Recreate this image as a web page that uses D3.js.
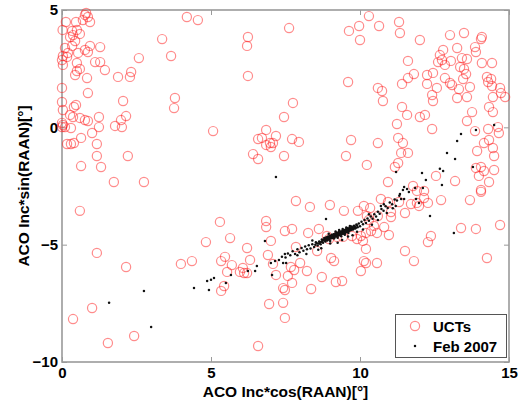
<!DOCTYPE html>
<html>
<head>
<meta charset="utf-8">
<script src="https://cdn.jsdelivr.net/npm/d3@7"></script>
<style>
  html, body { margin: 0; padding: 0; background: #fff; }
  svg { display: block; }
  text { font-family: Arial, "Liberation Sans", sans-serif; font-weight: bold; fill: #000; }
</style>
</head>
<body>
<svg id="chart" width="521" height="404"></svg>
<script>
// Axis limits and tick labels
const xDomain = [0, 15];
const yDomain = [-10, 5];
const xTicks = [0, 5, 10, 15];
const yTicks = [-10, -5, 0, 5];
const xLabel = "ACO Inc*cos(RAAN)[°]";
const yLabel = "ACO Inc*sin(RAAN)[°]";
const seriesNames = ["UCTs", "Feb 2007"];

// Uncorrelated tracks: [Inc*cos(RAAN), Inc*sin(RAAN)] in degrees
const ucts = [
  [0.77,4.79],[0.87,4.70],[0.94,4.49],[0.70,4.57],[0.81,4.87],[0.13,4.49],[0.47,4.49],[0.02,4.15],
  [0.34,4.11],[0.50,4.15],[0.60,3.98],[0.37,3.93],[0.27,3.85],[0.44,3.68],[0.34,3.47],[0.94,3.47],
  [1.28,3.42],[0.10,3.38],[0.20,3.17],[0.03,3.04],[0.17,3.00],[0.87,3.21],[0.77,3.30],[0.54,3.17],
  [0.03,2.66],[0.50,2.74],[1.11,2.78],[1.28,2.78],[1.44,2.44],[0.50,2.40],[0.44,2.23],[0.60,2.49],
  [0.84,2.10],[1.88,2.15],[2.28,2.15],[2.32,2.36],[2.58,2.95],[3.36,3.76],[3.66,3.04],[4.19,4.70],
  [4.56,4.57],[0.00,1.68],[0.87,1.46],[2.05,1.12],[3.79,1.25],[3.76,0.82],[0.00,1.08],[0.47,0.95],
  [0.40,0.87],[0.03,0.74],[0.27,0.53],[0.37,0.44],[0.60,0.40],[0.77,0.31],[0.87,0.27],[1.24,0.44],
  [2.15,0.48],[1.98,0.31],[0.03,0.10],[0.10,0.01],[0.00,0.01],[0.30,-0.03],[1.24,0.01],[1.78,0.06],
  [2.01,0.01],[5.07,-0.16],[1.01,-0.24],[0.64,-0.45],[0.17,-0.71],[0.30,-0.71],[0.40,-0.67],[1.17,-0.71],
  [1.17,-1.22],[2.21,-1.22],[0.64,-1.65],[1.31,-1.69],[1.74,-2.33],[2.75,-2.33],[6.58,-0.50],[6.41,-1.14],
  [6.58,-1.35],[6.24,3.85],[6.21,3.47],[6.24,2.19],[0.00,2.87],[0.00,0.19],
  [7.62,4.23],[9.63,4.11],[9.97,4.32],[10.30,4.74],[10.64,4.32],[10.00,3.72],[11.31,4.49],[11.34,4.02],
  [12.01,3.72],[13.02,3.93],[13.49,4.02],[14.06,3.76],[14.09,3.85],[13.26,3.38],[13.86,3.42],[13.89,3.21],
  [12.79,3.30],[12.68,3.08],[12.62,2.78],[12.75,2.87],[13.05,2.83],[12.85,2.66],[11.61,2.83],[13.42,2.95],
  [13.59,2.91],[13.36,2.57],[13.49,2.49],[13.56,2.27],[13.46,2.06],[14.09,2.74],[14.43,2.74],[11.81,2.27],
  [11.61,2.10],[11.41,1.85],[12.25,2.23],[12.45,2.32],[12.25,1.85],[12.85,2.10],[13.02,1.89],[13.09,1.80],
  [12.58,1.68],[12.42,1.38],[12.45,1.12],[13.32,1.63],[13.26,1.25],[13.59,1.29],[13.69,1.72],[14.26,2.15],
  [14.40,2.06],[14.30,1.93],[14.43,1.76],[14.70,1.68],[14.87,1.29],[14.73,1.46],[14.46,1.29],[9.60,1.93],
  [10.60,1.68],[10.74,1.55],[10.77,1.12],[7.75,1.04],[7.45,0.44],[11.41,0.87],[11.58,0.53],[12.01,0.44],
  [12.18,0.53],[11.24,0.14],[12.42,-0.07],[13.76,0.65],[14.33,0.87],[14.46,0.65],[13.59,0.27],[13.86,-0.16],
  [14.30,-0.07],[14.63,0.01],[14.66,-0.24],[6.85,-0.11],[6.71,-0.45],[6.98,-0.67],[7.18,-0.37],[7.08,-0.67],
  [7.01,-0.84],[6.85,-0.75],[7.72,-0.50],[7.95,-0.62],[7.45,-1.22],[9.70,-0.54],[10.60,-0.67],[9.53,-1.22],
  [10.23,-1.60],[11.28,-0.45],[11.44,-0.67],[11.38,-1.09],[11.61,-1.09],[11.28,-1.52],[11.17,-1.69],[10.94,-2.33],
  [11.78,-2.50],[12.15,-2.71],[11.91,-2.71],[12.55,-2.07],[13.19,-2.29],[13.93,-1.01],[14.16,-0.67],[14.33,-0.54],
  [14.46,-0.88],[14.50,-1.22],[13.89,-1.73],[14.06,-1.69],[14.16,-1.86],[13.99,-2.07],[14.50,-1.82],[14.33,-2.33],
  [14.06,-2.75],[14.06,-2.67],
  [0.60,-3.56],[1.17,-5.35],[2.15,-5.95],[1.01,-7.70],[0.37,-8.17],[2.42,-8.89],[1.54,-9.19],[5.30,-4.03],
  [4.83,-4.89],[5.64,-4.72],[6.21,-5.14],[5.47,-5.52],[5.34,-5.70],[5.70,-5.87],[6.31,-5.65],[3.99,-5.82],
  [4.36,-5.70],[5.54,-6.16],[6.07,-5.99],[6.11,-6.21],[5.97,-6.16],[6.21,-6.21],[5.44,-6.76],[5.34,-6.97],
  [6.58,-9.32],[6.85,-3.99],[6.85,-4.25],[7.01,-4.84],[7.48,-4.42],[6.91,-5.44],[7.08,-5.82],[7.18,-6.29],
  [7.42,-6.85],[7.48,-6.93],[6.95,-7.53],[7.42,-7.48],[7.48,-8.12],[7.85,-3.14],[8.32,-3.39],[8.99,-3.31],
  [9.46,-3.56],[9.93,-3.56],[10.13,-3.35],[10.34,-3.44],[10.70,-3.05],[10.94,-3.18],[11.04,-3.61],[11.04,-3.82],
  [10.60,-3.78],[10.23,-3.78],[10.30,-3.95],[7.72,-4.33],[8.26,-4.50],[8.62,-4.33],[8.89,-4.63],[8.96,-4.76],
  [9.23,-4.67],[9.43,-4.67],[9.73,-4.63],[10.03,-4.63],[10.20,-4.50],[10.37,-4.42],[10.47,-4.20],[10.81,-4.25],
  [10.97,-4.59],[10.57,-4.50],[10.10,-4.84],[9.90,-4.76],[7.85,-5.10],[8.56,-5.27],[9.03,-5.57],[9.13,-5.70],
  [10.20,-5.18],[10.13,-5.70],[10.20,-5.78],[10.57,-5.78],[10.03,-6.12],[7.68,-5.95],[7.99,-5.78],[8.22,-6.12],
  [7.79,-6.08],[7.58,-6.33],[7.72,-6.63],[8.72,-6.38],[9.19,-6.59],[9.40,-6.55],[8.36,-6.89],[11.51,-3.65],
  [11.91,-3.22],[11.51,-5.27],[11.81,-5.70],[12.28,-4.89],[12.38,-4.63],[13.39,-4.29],[13.89,-4.33],[14.70,-4.16],
  [14.26,-5.57],[13.69,-3.10],[12.15,-3.01],[12.28,-3.22],[11.98,-3.35],[11.71,-3.27],[11.31,-3.18],[12.72,-3.10]
];

// February 2007 catalogue objects
const feb2007 = [
  [7.18,-2.12],[11.21,-1.90],[12.08,-1.95],[12.21,-2.24],[12.11,-2.58],[12.68,-1.77],[12.79,-1.86],[12.75,-2.46],
  [12.92,-1.09],[13.19,-1.35],[13.26,-0.58],[13.39,-0.28],[13.89,-0.11],[14.50,0.10],[13.79,-1.69],[11.48,-2.54],
  [11.85,-2.58],[11.38,-3.05],[11.48,-3.05],[11.88,-3.05],[11.98,-3.22],[12.35,-3.78],[13.15,-4.50],[1.58,-7.48],
  [2.75,-6.97],[2.99,-8.51],[4.43,-6.85],[4.87,-6.55],[5.00,-6.50],[5.10,-6.42],[4.93,-6.93],[5.50,-6.63],
  [5.67,-6.29],[6.24,-6.12],[6.48,-6.12],[6.54,-5.91],[6.81,-4.84],[7.01,-5.78],[7.15,-5.70],[7.28,-5.65],
  [7.38,-5.52],[7.48,-5.40],[7.42,-5.78],[7.52,-5.78],[7.05,-6.29],[11.44,-2.67],[11.58,-2.63],[11.64,-2.76],
  [11.34,-2.84],[8.86,-3.91],[10.70,-3.35],
  [7.50,-5.55],[7.58,-5.38],[7.66,-5.45],[7.74,-5.28],[7.82,-5.40],[7.90,-5.20],[7.97,-5.32],[8.04,-5.14],
  [8.10,-5.26],[8.16,-5.08],[8.22,-5.20],[8.28,-5.02],[8.34,-5.16],[8.40,-4.98],[8.46,-5.10],[8.52,-4.90],
  [8.58,-5.04],[8.63,-4.86],[8.68,-4.98],[8.72,-4.78],[8.76,-4.92],[8.80,-4.72],[8.84,-4.86],[8.87,-4.68],
  [8.90,-4.82],[8.93,-4.65],[8.96,-4.78],[8.99,-4.62],[9.02,-4.74],[9.05,-4.58],[9.08,-4.72],[9.11,-4.56],
  [9.14,-4.69],[9.17,-4.52],[9.20,-4.65],[9.23,-4.49],[9.26,-4.62],[9.29,-4.46],[9.32,-4.60],[9.35,-4.44],
  [9.38,-4.56],[9.41,-4.40],[9.44,-4.53],[9.47,-4.37],[9.50,-4.50],[9.53,-4.34],[9.56,-4.46],[9.59,-4.30],
  [9.62,-4.42],[9.65,-4.27],[9.68,-4.39],[9.72,-4.23],[9.76,-4.35],[9.80,-4.19],[9.84,-4.31],[9.88,-4.14],
  [9.92,-4.26],[9.96,-4.10],[10.00,-4.22],[10.05,-4.02],[10.10,-4.13],[10.15,-3.95],[10.20,-4.08],[10.25,-3.88],
  [10.30,-3.98],[10.36,-3.80],[10.42,-3.90],[10.48,-3.70],[10.54,-3.80],[10.60,-3.60],[10.66,-3.68],[10.72,-3.48],
  [10.79,-3.56],[10.86,-3.36],[10.93,-3.44],[11.00,-3.20],[11.08,-3.28],[11.16,-3.08],[11.24,-3.12],[11.32,-2.92],
  [8.92,-4.72],[8.98,-4.70],[9.04,-4.66],[9.09,-4.64],[9.15,-4.60],[9.21,-4.57],[9.27,-4.54],[9.33,-4.52],
  [9.39,-4.48],[9.45,-4.45],[9.51,-4.42],[9.57,-4.38],[9.63,-4.35],[9.69,-4.31],[9.75,-4.28],[9.81,-4.25],
  [9.13,-4.74],[9.25,-4.70],[9.37,-4.64],[9.49,-4.58],[9.61,-4.50],[9.18,-4.44],[9.30,-4.38],[9.42,-4.33],
  [9.54,-4.27],[9.66,-4.20],[8.85,-4.77],[8.95,-4.54],[9.00,-4.84],
  [9.00,-4.95],[8.70,-5.15],[8.20,-5.40],[7.90,-5.45],[8.40,-4.82],[9.60,-4.65],[9.90,-4.45],[10.10,-4.35],
  [10.40,-4.15],[10.60,-3.95],[10.90,-3.65],[11.10,-3.45],[9.25,-4.92],[9.75,-4.60],[10.30,-3.70],[10.80,-3.28],
  [11.20,-3.35],[8.60,-5.22],[9.40,-4.80],
  [8.50,-5.00],[8.55,-4.94],[8.62,-4.95],[8.66,-4.90],[8.71,-4.88],[8.74,-4.84],[8.79,-4.80],[8.82,-4.82],
  [8.86,-4.74],[8.91,-4.77],[8.94,-4.70],[8.97,-4.66],[9.01,-4.69],[9.06,-4.62],[9.10,-4.68],[9.12,-4.60],
  [9.16,-4.64],[9.19,-4.55],[9.22,-4.61],[9.24,-4.53],[9.28,-4.58],[9.31,-4.50],[9.34,-4.55],[9.36,-4.47],
  [9.40,-4.52],[9.43,-4.44],[9.46,-4.49],[9.48,-4.41],[9.52,-4.46],[9.55,-4.38],[9.58,-4.43],[9.60,-4.35],
  [9.64,-4.40],[9.67,-4.32],[9.71,-4.36],[9.74,-4.29],[9.78,-4.33],[9.82,-4.22],[9.86,-4.28],[9.90,-4.18]
];

const svg = d3.select("#chart");
const margin = { left: 62, top: 10, right: 12, bottom: 42 };
const W = 521, H = 404;
const x = d3.scaleLinear().domain(xDomain).range([margin.left, W - margin.right]);
const y = d3.scaleLinear().domain(yDomain).range([H - margin.bottom, margin.top]);

const axisColor = "#9a9a9a";
const tickLen = 5;

// Bottom and left axes carry the labels; ticks point inward
const gx = svg.append("g").attr("transform", `translate(0,${y(yDomain[0])})`)
  .call(d3.axisBottom(x).tickValues(xTicks).tickSizeInner(-tickLen).tickSizeOuter(0).tickPadding(5).tickFormat(d3.format("d")));
const gy = svg.append("g").attr("transform", `translate(${x(xDomain[0])},0)`)
  .call(d3.axisLeft(y).tickValues(yTicks).tickSizeInner(-tickLen).tickSizeOuter(0).tickPadding(4).tickFormat(d3.format("d")));
// Mirrored ticks on top and right
const gt = svg.append("g").attr("transform", `translate(0,${y(yDomain[1])})`)
  .call(d3.axisTop(x).tickValues(xTicks).tickSizeInner(-tickLen).tickSizeOuter(0).tickFormat(""));
const gr = svg.append("g").attr("transform", `translate(${x(xDomain[1])},0)`)
  .call(d3.axisRight(y).tickValues(yTicks).tickSizeInner(-tickLen).tickSizeOuter(0).tickFormat(""));

[gx, gy, gt, gr].forEach(g => {
  g.select(".domain").remove();
  g.selectAll(".tick line").attr("stroke", axisColor).attr("stroke-width", 1);
  g.selectAll(".tick text")
    .attr("font-family", 'Arial, "Liberation Sans", sans-serif')
    .attr("font-weight", "bold").attr("font-size", 15).attr("fill", "#000");
});

// Axes frame
svg.append("rect")
  .attr("x", x(xDomain[0])).attr("y", y(yDomain[1]))
  .attr("width", x(xDomain[1]) - x(xDomain[0]))
  .attr("height", y(yDomain[0]) - y(yDomain[1]))
  .attr("fill", "none").attr("stroke", axisColor).attr("stroke-width", 1.6);

// UCT circles
svg.append("g").selectAll("circle").data(ucts).join("circle")
  .attr("cx", d => x(d[0])).attr("cy", d => y(d[1])).attr("r", 4.6)
  .attr("fill", "none").attr("stroke", "#ff1a1a").attr("stroke-opacity", 0.5).attr("stroke-width", 1.2);

// Feb 2007 points
svg.append("g").selectAll("circle").data(feb2007).join("circle")
  .attr("cx", d => x(d[0])).attr("cy", d => y(d[1])).attr("r", 1.25)
  .attr("fill", "#111");

// Axis titles
svg.append("text")
  .attr("x", (x(xDomain[0]) + x(xDomain[1])) / 2).attr("y", 397)
  .attr("text-anchor", "middle").attr("font-size", 15.5).text(xLabel);
svg.append("text")
  .attr("transform", `translate(29,${(y(yDomain[0]) + y(yDomain[1])) / 2}) rotate(-90)`)
  .attr("text-anchor", "middle").attr("font-size", 15.5).text(yLabel);

// Legend
const lg = svg.append("g");
lg.append("rect").attr("x", 395.5).attr("y", 314.5).attr("width", 111).attr("height", 43)
  .attr("fill", "#fff").attr("stroke", "#555").attr("stroke-width", 1);
lg.append("circle").attr("cx", 415).attr("cy", 326).attr("r", 4.6)
  .attr("fill", "none").attr("stroke", "#ff1a1a").attr("stroke-opacity", 0.5).attr("stroke-width", 1.2);
lg.append("circle").attr("cx", 415).attr("cy", 346).attr("r", 1.25).attr("fill", "#111");
lg.append("text").attr("x", 433).attr("y", 332).attr("font-size", 15).text(seriesNames[0]);
lg.append("text").attr("x", 433).attr("y", 351.5).attr("font-size", 15).text(seriesNames[1]);
</script>
</body>
</html>
